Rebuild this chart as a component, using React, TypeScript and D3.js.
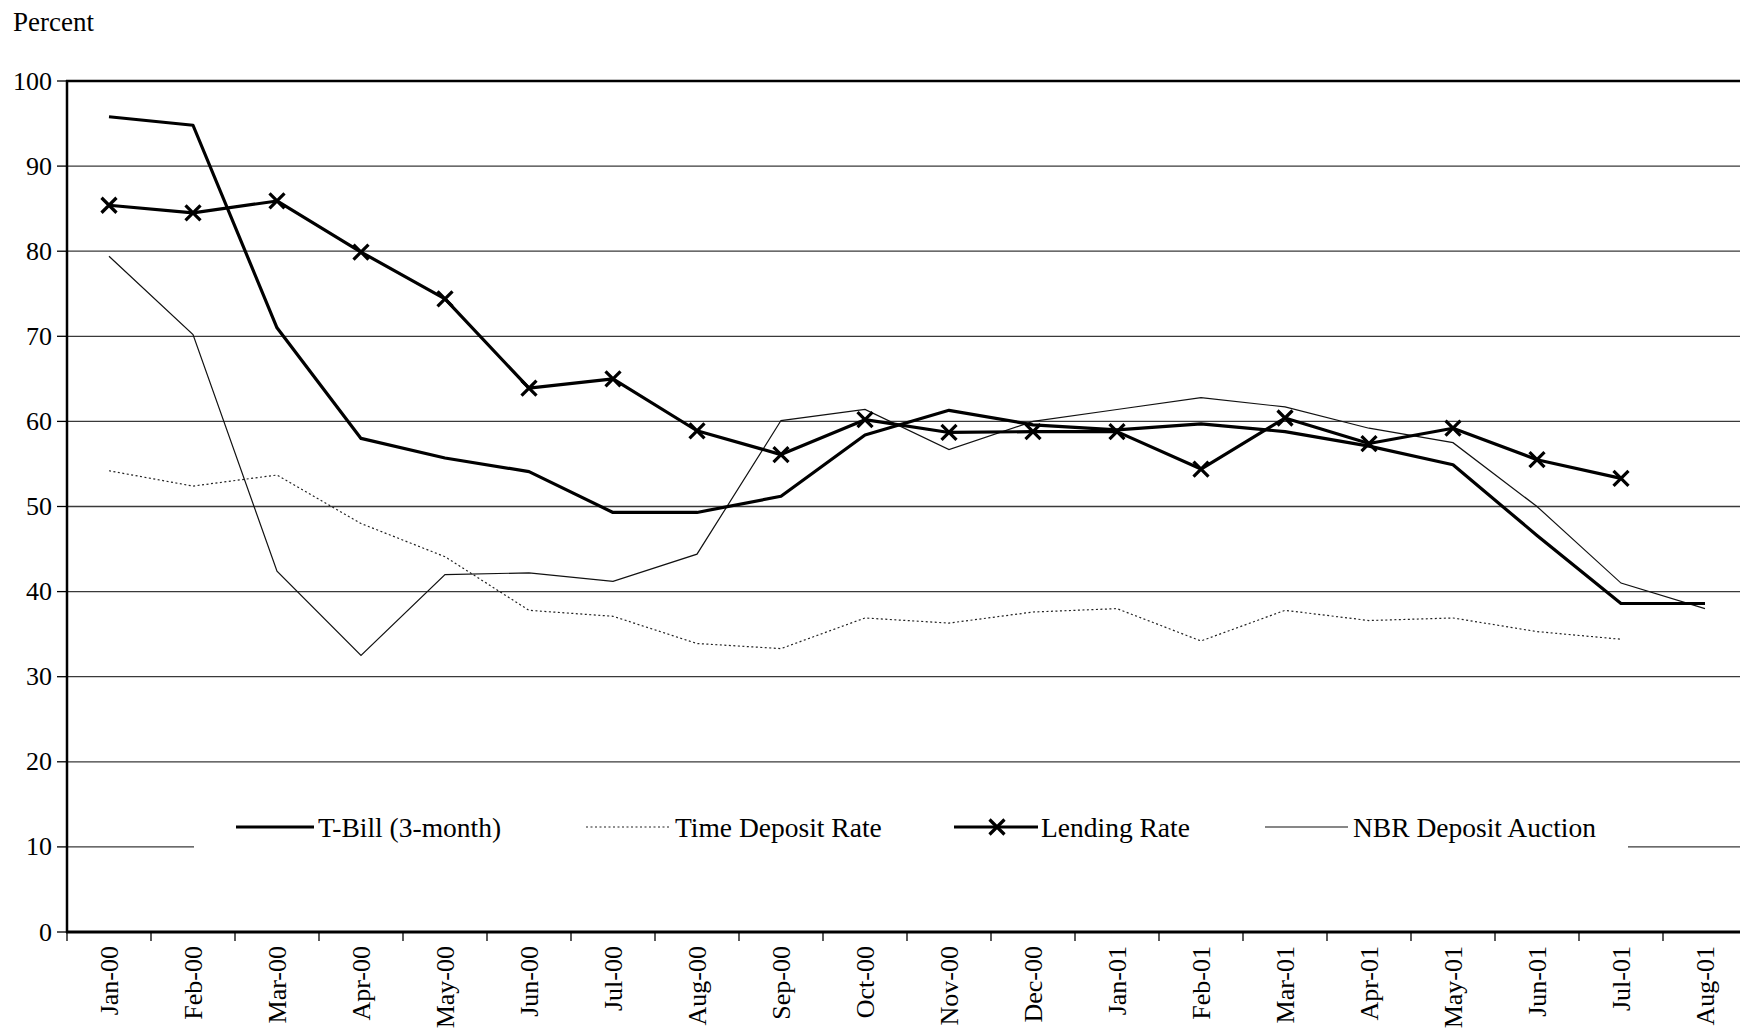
import React from "react";
import * as d3 from "d3";

const months = [
  "Jan-00", "Feb-00", "Mar-00", "Apr-00", "May-00", "Jun-00", "Jul-00", "Aug-00", "Sep-00", "Oct-00",
  "Nov-00", "Dec-00", "Jan-01", "Feb-01", "Mar-01", "Apr-01", "May-01", "Jun-01", "Jul-01", "Aug-01",
];
const tBill = [95.8, 94.8, 71.0, 58.0, 55.7, 54.1, 49.3, 49.3, 51.2, 58.4, 61.3, 59.6, 59.0, 59.7, 58.8, 57.1, 54.9, 46.6, 38.6, 38.6];
const timeDeposit = [54.2, 52.4, 53.7, 48.0, 44.1, 37.8, 37.1, 33.9, 33.3, 36.9, 36.3, 37.6, 38.0, 34.2, 37.8, 36.6, 36.9, 35.3, 34.4, null];
const lending = [85.4, 84.5, 85.9, 79.9, 74.4, 63.9, 65.0, 58.9, 56.1, 60.2, 58.7, 58.8, 58.8, 54.4, 60.4, 57.4, 59.2, 55.5, 53.3, null];
const nbr = [79.4, 70.2, 42.4, 32.5, 42.0, 42.2, 41.2, 44.4, 60.1, 61.4, 56.7, 60.0, 61.4, 62.8, 61.7, 59.2, 57.5, 50.0, 41.0, 38.0];
const yTicks = [0, 10, 20, 30, 40, 50, 60, 70, 80, 90, 100];
const legendLabels = ["T-Bill (3-month)", "Time Deposit Rate", "Lending Rate", "NBR Deposit Auction"];

const W = 1740;
const H = 1032;
const FONT = "'Liberation Serif', 'Times New Roman', serif";

export default function App() {
  const x = d3.scaleBand<string>().domain(months).range([67, 1747]).paddingInner(0).paddingOuter(0);
  const y = d3.scaleLinear().domain([0, 100]).range([932, 81]);
  const cx = (m: string) => (x(m) as number) + x.bandwidth() / 2;

  const line = d3
    .line<number | null>()
    .defined((d) => d !== null)
    .x((_, i) => cx(months[i]))
    .y((d) => y(d as number));

  const xMark = (px: number, py: number, s: number, key: string) => (
    <path key={key} d={`M${px - s},${py - s}L${px + s},${py + s}M${px - s},${py + s}L${px + s},${py - s}`} stroke="#000" strokeWidth={3.2} fill="none" />
  );

  const legendY = 827;
  const fs = 26;
  const lfs = 27.5;

  return (
    <svg width={W} height={H} style={{ position: "absolute", left: 0, top: 0, background: "#fff" }} fontFamily={FONT}>
      <rect x={0} y={0} width={W} height={H} fill="#fff" />
      <text x={13} y={31} fontSize={27} fill="#000">Percent</text>

      {/* gridlines */}
      {yTicks.filter((t) => t > 0 && t < 100).map((t) => (
        <line key={"g" + t} x1={67} x2={1747} y1={y(t)} y2={y(t)} stroke="#3a3a3a" strokeWidth={1.3} />
      ))}

      {/* y ticks + labels */}
      {yTicks.map((t) => (
        <g key={"yt" + t}>
          <line x1={57} x2={67} y1={y(t)} y2={y(t)} stroke="#000" strokeWidth={1.3} />
          <text x={52} y={y(t)} fontSize={fs} textAnchor="end" dominantBaseline="central" fill="#000">{t}</text>
        </g>
      ))}

      {/* x ticks */}
      {months.map((m) => (
        <line key={"xt" + m} x1={x(m) as number} x2={x(m) as number} y1={932} y2={941} stroke="#000" strokeWidth={1.3} />
      ))}
      {months.map((m) => (
        <text
          key={"xl" + m}
          transform={`translate(${cx(m)},946) rotate(-90)`}
          fontSize={fs}
          textAnchor="end"
          dominantBaseline="central"
          fill="#000"
        >
          {m}
        </text>
      ))}

      {/* legend background box */}
      <rect x={194} y={795} width={1434} height={66} fill="#fff" />

      {/* series */}
      <path d={line(nbr) as string} fill="none" stroke="#111" strokeWidth={1.2} />
      <path d={line(timeDeposit) as string} fill="none" stroke="#222" strokeWidth={1.2} strokeDasharray="2,2.5" />
      <path d={line(tBill) as string} fill="none" stroke="#000" strokeWidth={3.2} strokeLinejoin="round" />
      <path d={line(lending) as string} fill="none" stroke="#000" strokeWidth={3.2} strokeLinejoin="round" />
      {lending.map((v, i) => (v === null ? null : xMark(cx(months[i]), y(v), 7.5, "m" + i)))}

      {/* axes frame */}
      <line x1={67} x2={67} y1={80} y2={933} stroke="#000" strokeWidth={2.5} />
      <line x1={66} x2={1747} y1={932} y2={932} stroke="#000" strokeWidth={3} />
      <line x1={66} x2={1747} y1={81} y2={81} stroke="#000" strokeWidth={2.5} />

      {/* legend */}
      <line x1={236} x2={314} y1={legendY} y2={legendY} stroke="#000" strokeWidth={3.2} />
      <text x={318} y={legendY} fontSize={lfs} dominantBaseline="central" fill="#000">{legendLabels[0]}</text>

      <line x1={586} x2={669} y1={legendY} y2={legendY} stroke="#222" strokeWidth={1.2} strokeDasharray="2,2.5" />
      <text x={675} y={legendY} fontSize={lfs} dominantBaseline="central" fill="#000">{legendLabels[1]}</text>

      <line x1={954} x2={1038} y1={legendY} y2={legendY} stroke="#000" strokeWidth={3.2} />
      {xMark(997, legendY, 7.5, "lm")}
      <text x={1041} y={legendY} fontSize={lfs} dominantBaseline="central" fill="#000">{legendLabels[2]}</text>

      <line x1={1265} x2={1348} y1={legendY} y2={legendY} stroke="#111" strokeWidth={1.2} />
      <text x={1353} y={legendY} fontSize={lfs} dominantBaseline="central" fill="#000">{legendLabels[3]}</text>
    </svg>
  );
}
